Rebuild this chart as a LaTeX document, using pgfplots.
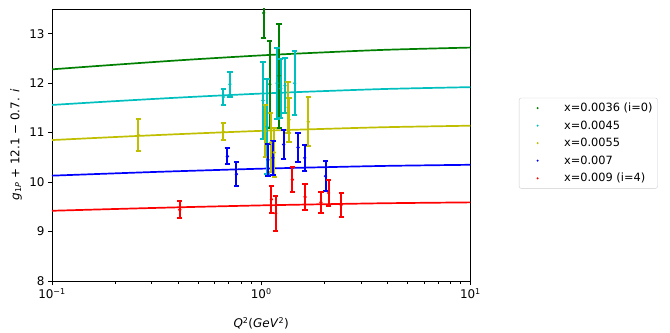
\documentclass[border=0pt]{standalone}
\usepackage{pgfplots}
\pgfplotsset{compat=1.18}
\usepackage{fontspec}
\setmainfont{DejaVu Sans}
\definecolor{mg}{rgb}{0,0.5,0}
\definecolor{mc}{rgb}{0,0.75,0.75}
\definecolor{my}{rgb}{0.75,0.75,0}
\definecolor{mb}{rgb}{0,0,1}
\definecolor{mr}{rgb}{1,0,0}
\pgfplotsset{
  ebar/.style={only marks, mark=*, mark size=0.6bp, forget plot, color=#1, fill=#1, draw=#1,
    error bars/.cd, y dir=both, y explicit},
}
\begin{document}
\begin{tikzpicture}
\begin{axis}[
  at={(0,0)}, anchor=south west,
  scale only axis, width=418.4bp, height=272bp,
  xmode=log, xmin=0.1, xmax=10, ymin=8, ymax=13.5,
  xtick={0.1,1,10},
  xticklabels={10\textsuperscript{−1},10\textsuperscript{0},10\textsuperscript{1}},
  ytick={8,9,10,11,12,13},
  /pgf/number format/assume math mode=true,
  tick align=outside, major tick length=4bp, minor tick length=2.5bp,
  xtick pos=bottom, ytick pos=left,
  axis line style={line width=0.8bp},
  tick style={line width=0.8bp, black},
  tick label style={font=\fontsize{12}{14}\selectfont},
  label style={font=\fontsize{12}{14}\selectfont},
  xlabel={\textit{Q}\textsuperscript{2}(\textit{GeV}\textsuperscript{2})},
  ylabel={\textit{g}\textsubscript{1\textit{P}} + 12.1 − 0.7. \textit{i}},
  xlabel style={at={(axis description cs:0.5,-0.155)}, anchor=center},
  ylabel style={at={(axis description cs:-0.086,0.5)}, anchor=center},
  legend style={at={(1.116,0.6735)}, anchor=north west, draw=black!20, rounded corners=2bp,
    font=\fontsize{11.4}{13.5}\selectfont, row sep=3.6bp, inner xsep=3bp, inner ysep=3bp},
  legend cell align=left,
  legend image code/.code={\path[draw=none,fill=none] (0bp,-2bp) rectangle (40bp,2bp); \fill[draw=none] (15.5bp,0bp) circle (1.1bp);},
  every axis plot/.append style={line width=1.7bp},
  error bars/error bar style={line width=2bp},
  error bars/error mark options={rotate=90, mark size=2.6bp, line width=2bp},
]
\addlegendimage{mg}\addlegendentry{x=0.0036 (i=0)}
\addlegendimage{mc}\addlegendentry{x=0.0045}
\addlegendimage{my}\addlegendentry{x=0.0055}
\addlegendimage{mb}\addlegendentry{x=0.007}
\addlegendimage{mr}\addlegendentry{x=0.009 (i=4)}

% fitted curves
\addplot[mg, smooth, no marks, forget plot] coordinates {(0.1,12.28)(0.168,12.35)(0.3,12.425)(0.5,12.487)(1,12.562)(1.9,12.619)(4,12.676)(10,12.72)};
\addplot[mc, smooth, no marks, forget plot] coordinates {(0.1,11.56)(0.168,11.618)(0.3,11.679)(0.5,11.729)(1,11.79)(1.9,11.837)(4,11.884)(10,11.92)};
\addplot[my, smooth, no marks, forget plot] coordinates {(0.1,10.85)(0.168,10.896)(0.3,10.946)(0.5,10.986)(1,11.036)(1.9,11.073)(4,11.111)(10,11.14)};
\addplot[mb, smooth, no marks, forget plot] coordinates {(0.1,10.13)(0.168,10.165)(0.3,10.203)(0.5,10.233)(1,10.271)(1.9,10.299)(4,10.328)(10,10.35)};
\addplot[mr, smooth, no marks, forget plot] coordinates {(0.1,9.42)(0.168,9.447)(0.3,9.476)(0.5,9.50)(1,9.529)(1.9,9.551)(4,9.573)(10,9.59)};

% data with error bars
\addplot[ebar=mg] coordinates {
(1.028,13.42) +- (0,0.5)
(1.10,11.98) +- (0,0.88)
(1.217,12.15) +- (0,1.05)
};
\addplot[ebar=mc] coordinates {
(0.659,11.72) +- (0,0.17)
(0.709,11.98) +- (0,0.25)
(1.02,11.65) +- (0,0.78)
(1.065,11.12) +- (0,0.96)
(1.19,12.00) +- (0,0.72)
(1.24,11.89) +- (0,0.60)
(1.30,11.95) +- (0,0.56)
(1.446,12.00) +- (0,0.65)
};
\addplot[ebar=my] coordinates {
(0.259,10.95) +- (0,0.32)
(0.659,11.02) +- (0,0.17)
(1.045,11.03) +- (0,0.52)
(1.11,10.80) +- (0,0.59)
(1.155,10.60) +- (0,0.50)
(1.343,11.51) +- (0,0.52)
(1.358,11.26) +- (0,0.45)
(1.678,11.22) +- (0,0.50)
};
\addplot[ebar=mb] coordinates {
(0.689,10.52) +- (0,0.16)
(0.761,10.16) +- (0,0.24)
(1.078,10.45) +- (0,0.32)
(1.139,10.49) +- (0,0.35)
(1.281,10.76) +- (0,0.29)
(1.50,10.70) +- (0,0.30)
(1.615,10.49) +- (0,0.26)
(2.03,10.12) +- (0,0.30)
};
\addplot[ebar=mr] coordinates {
(0.408,9.44) +- (0,0.17)
(1.119,9.65) +- (0,0.27)
(1.173,9.37) +- (0,0.35)
(1.41,10.05) +- (0,0.25)
(1.62,9.70) +- (0,0.26)
(1.93,9.59) +- (0,0.21)
(2.10,9.78) +- (0,0.26)
(2.41,9.54) +- (0,0.24)
};
\end{axis}
\useasboundingbox (-52bp,-52bp) rectangle (618bp,281bp);
\end{tikzpicture}
\end{document}
